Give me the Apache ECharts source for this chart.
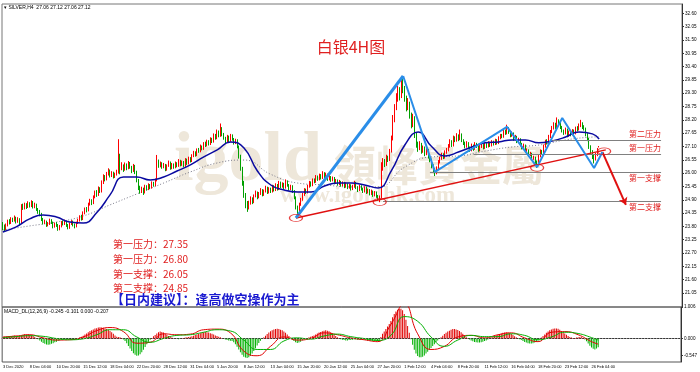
<!DOCTYPE html>
<html><head><meta charset="utf-8">
<script src="https://cdn.jsdelivr.net/npm/echarts@6/dist/echarts.min.js"></script>
<style>html,body{margin:0;padding:0;background:#fff}#c{width:700px;height:372px}</style>
</head><body><div id="c"></div>
<script>
// ---- data ----
const xLabels = ["3 Dec 2020","8 Dec 04:00","10 Dec 20:00","15 Dec 12:00","18 Dec 04:00","22 Dec 20:00","28 Dec 12:00","31 Dec 04:00","5 Jan 20:00","8 Jan 12:00","13 Jan 04:00","15 Jan 20:00","20 Jan 12:00","25 Jan 04:00","27 Jan 20:00","1 Feb 12:00","4 Feb 04:00","8 Feb 20:00","11 Feb 12:00","16 Feb 04:00","18 Feb 20:00","23 Feb 12:00","26 Feb 04:00"];
const barsPerLabel = 16;
const totalSlots = 406;

const opens = [
23.90,23.80,23.70,23.85,24.00,23.95,24.10,24.05,24.15,24.00,
24.10,23.95,24.65,24.55,24.70,24.60,24.75,24.65,24.80,24.60,
24.70,24.50,24.40,24.30,24.10,23.95,24.00,23.85,23.90,24.05,
23.95,23.80,23.90,23.85,23.70,23.80,23.95,23.90,24.00,23.85,
23.75,23.90,24.00,23.85,23.80,23.95,24.05,24.20,24.10,24.35,
24.50,24.45,24.70,24.85,24.75,25.00,25.20,25.10,25.35,25.25,
25.60,25.85,25.75,25.95,26.10,25.90,26.00,25.85,25.95,26.05,
26.65,26.20,26.30,26.15,26.35,26.20,26.40,26.25,26.10,26.30,
26.05,25.70,25.40,25.25,25.35,25.20,25.45,25.35,25.50,25.40,
25.60,25.50,25.70,26.50,26.30,26.40,26.25,26.35,26.15,26.30,
26.45,26.20,26.35,26.25,26.40,26.30,26.50,26.35,26.45,26.30,
26.55,26.40,26.60,26.50,26.70,26.85,26.75,26.95,26.90,27.10,
27.00,27.20,27.15,27.30,27.20,27.40,27.30,27.55,27.45,27.70,
27.55,27.85,27.60,27.45,27.30,27.50,27.35,27.55,27.40,27.25,
27.35,27.10,26.70,26.20,25.60,25.10,24.70,24.60,24.75,24.95,
24.80,25.05,25.20,25.00,25.15,25.30,25.10,25.25,25.40,25.20,
25.35,25.25,25.45,25.30,25.50,25.35,25.60,25.45,25.55,25.40,
25.65,25.50,25.35,25.45,25.25,25.00,24.60,24.45,24.70,24.90,
25.10,25.30,25.20,25.45,25.60,25.50,25.70,25.65,25.85,25.75,
25.90,25.80,26.00,25.85,25.95,25.75,25.85,25.70,25.80,25.60,
25.70,25.55,25.65,25.50,25.60,25.45,25.55,25.40,25.50,25.35,
25.45,25.60,25.40,25.30,25.45,25.35,25.25,25.40,25.20,25.30,
25.15,25.25,25.10,25.20,25.05,24.95,25.00,26.20,26.50,26.35,
26.65,26.55,26.90,27.40,28.20,28.70,29.10,29.40,29.20,29.70,
29.50,29.10,28.70,28.90,28.40,28.00,28.30,27.60,27.20,27.00,
27.20,26.90,27.05,26.80,26.95,26.70,26.55,26.30,26.10,26.00,
26.20,26.45,26.60,26.75,26.65,26.85,26.95,27.10,27.30,27.15,
27.45,27.35,27.55,27.40,27.60,27.35,27.25,27.10,27.25,27.05,
26.95,27.15,27.00,27.20,27.10,26.95,27.10,27.15,27.05,27.20,
27.10,27.25,27.15,27.30,27.20,27.35,27.25,27.45,27.55,27.50,
27.70,27.65,27.85,27.70,27.55,27.65,27.40,27.50,27.30,27.40,
27.20,27.05,27.15,26.90,26.95,26.75,26.80,26.60,26.65,26.45,
26.40,26.70,26.90,26.85,27.10,27.30,27.25,27.50,27.70,27.85,
28.00,27.90,28.15,28.05,27.90,27.75,27.65,27.80,27.55,27.70,
27.60,27.75,27.65,27.85,27.80,27.95,28.05,27.90,27.85,27.60,
27.40,27.10,26.90,26.70,26.60,26.75,27.06];

const closes = [
23.80,23.70,23.85,24.00,23.95,24.10,24.05,24.15,24.00,24.10,
23.95,24.65,24.55,24.70,24.60,24.75,24.65,24.80,24.60,24.70,
24.50,24.40,24.30,24.10,23.95,24.00,23.85,23.90,24.05,23.95,
23.80,23.90,23.85,23.70,23.80,23.95,23.90,24.00,23.85,23.75,
23.90,24.00,23.85,23.80,23.95,24.05,24.20,24.10,24.35,24.50,
24.45,24.70,24.85,24.75,25.00,25.20,25.10,25.35,25.25,25.60,
25.85,25.75,25.95,26.10,25.90,26.00,25.85,25.95,26.05,26.65,
26.20,26.30,26.15,26.35,26.20,26.40,26.25,26.10,26.30,26.05,
25.70,25.40,25.25,25.35,25.20,25.45,25.35,25.50,25.40,25.60,
25.50,25.70,26.50,26.30,26.40,26.25,26.35,26.15,26.30,26.45,
26.20,26.35,26.25,26.40,26.30,26.50,26.35,26.45,26.30,26.55,
26.40,26.60,26.50,26.70,26.85,26.75,26.95,26.90,27.10,27.00,
27.20,27.15,27.30,27.20,27.40,27.30,27.55,27.45,27.70,27.55,
27.85,27.60,27.45,27.30,27.50,27.35,27.55,27.40,27.25,27.35,
27.10,26.70,26.20,25.60,25.10,24.70,24.60,24.75,24.95,24.80,
25.05,25.20,25.00,25.15,25.30,25.10,25.25,25.40,25.20,25.35,
25.25,25.45,25.30,25.50,25.35,25.60,25.45,25.55,25.40,25.65,
25.50,25.35,25.45,25.25,25.00,24.60,24.45,24.70,24.90,25.10,
25.30,25.20,25.45,25.60,25.50,25.70,25.65,25.85,25.75,25.90,
25.80,26.00,25.85,25.95,25.75,25.85,25.70,25.80,25.60,25.70,
25.55,25.65,25.50,25.60,25.45,25.55,25.40,25.50,25.35,25.45,
25.60,25.40,25.30,25.45,25.35,25.25,25.40,25.20,25.30,25.15,
25.25,25.10,25.20,25.05,24.95,25.00,26.20,26.50,26.35,26.65,
26.55,26.90,27.40,28.20,28.70,29.10,29.40,29.20,29.70,29.50,
29.10,28.70,28.90,28.40,28.00,28.30,27.60,27.20,27.00,27.20,
26.90,27.05,26.80,26.95,26.70,26.55,26.30,26.10,26.00,26.20,
26.45,26.60,26.75,26.65,26.85,26.95,27.10,27.30,27.15,27.45,
27.35,27.55,27.40,27.60,27.35,27.25,27.10,27.25,27.05,26.95,
27.15,27.00,27.20,27.10,26.95,27.10,27.15,27.05,27.20,27.10,
27.25,27.15,27.30,27.20,27.35,27.25,27.45,27.55,27.50,27.70,
27.65,27.85,27.70,27.55,27.65,27.40,27.50,27.30,27.40,27.20,
27.05,27.15,26.90,26.95,26.75,26.80,26.60,26.65,26.45,26.40,
26.70,26.90,26.85,27.10,27.30,27.25,27.50,27.70,27.85,28.00,
27.90,28.15,28.05,27.90,27.75,27.65,27.80,27.55,27.70,27.60,
27.75,27.65,27.85,27.80,27.95,28.05,27.90,27.85,27.60,27.40,
27.10,26.90,26.70,26.60,26.75,26.95,27.12];

const highs = [
23.98,23.88,23.92,24.08,24.10,24.18,24.16,24.25,24.20,24.18,
24.14,24.72,24.74,24.78,24.76,24.84,24.80,24.88,24.85,24.78,
24.74,24.56,24.48,24.36,24.15,24.08,24.04,23.98,24.12,24.10,
24.00,23.96,23.98,23.90,23.86,24.02,24.04,24.08,24.05,23.90,
23.96,24.06,24.04,23.92,24.00,24.12,24.26,24.28,24.42,24.58,
24.60,24.78,24.94,24.92,25.08,25.28,25.30,25.45,25.42,25.70,
25.95,25.92,26.05,26.20,26.15,26.08,26.06,26.02,26.14,27.40,
26.80,26.45,26.36,26.44,26.40,26.50,26.46,26.30,26.38,26.34,
26.10,25.76,25.48,25.44,25.40,25.52,25.50,25.58,25.55,25.66,
25.64,25.78,26.75,26.56,26.48,26.45,26.42,26.38,26.36,26.52,
26.48,26.42,26.40,26.48,26.45,26.58,26.55,26.52,26.50,26.62,
26.60,26.68,26.66,26.78,26.92,26.90,27.02,27.04,27.18,27.14,
27.28,27.30,27.38,27.36,27.48,27.46,27.64,27.62,27.80,27.76,
28.05,27.90,27.66,27.50,27.58,27.55,27.62,27.60,27.45,27.42,
27.40,27.14,26.76,26.26,25.68,25.18,24.85,24.86,25.04,25.00,
25.12,25.28,25.24,25.22,25.38,25.34,25.32,25.48,25.44,25.42,
25.40,25.52,25.50,25.58,25.55,25.68,25.65,25.62,25.60,25.74,
25.70,25.55,25.52,25.50,25.30,25.04,24.66,24.78,24.98,25.18,
25.38,25.36,25.52,25.68,25.66,25.78,25.78,25.92,25.90,25.98,
25.96,26.08,26.04,26.02,25.98,25.92,25.88,25.86,25.84,25.76,
25.74,25.72,25.68,25.66,25.64,25.62,25.58,25.56,25.54,25.52,
25.68,25.64,25.46,25.52,25.50,25.40,25.46,25.44,25.36,25.34,
25.32,25.28,25.26,25.24,25.10,25.08,26.45,26.62,26.58,26.76,
26.72,27.00,27.55,28.40,28.85,29.30,29.60,29.55,30.00,29.90,
29.60,29.20,29.10,28.95,28.50,28.45,28.35,27.70,27.30,27.32,
27.25,27.14,27.10,27.04,27.00,26.76,26.60,26.36,26.20,26.28,
26.54,26.68,26.84,26.82,26.94,27.04,27.20,27.40,27.36,27.55,
27.52,27.65,27.60,27.80,27.64,27.40,27.30,27.32,27.28,27.10,
27.22,27.18,27.28,27.25,27.14,27.16,27.22,27.20,27.26,27.24,
27.32,27.30,27.36,27.34,27.42,27.40,27.52,27.62,27.62,27.78,
27.80,28.00,27.90,27.75,27.72,27.68,27.58,27.54,27.46,27.44,
27.25,27.22,27.18,27.02,26.98,26.88,26.84,26.72,26.68,26.52,
26.78,26.98,26.96,27.18,27.38,27.40,27.58,27.78,27.95,28.10,
28.08,28.30,28.22,28.10,27.95,27.80,27.88,27.84,27.76,27.75,
27.82,27.80,27.92,27.94,28.05,28.20,28.10,27.98,27.88,27.65,
27.45,27.15,26.95,26.76,26.84,27.04,27.12];

const lows = [
23.65,23.58,23.64,23.80,23.88,23.90,23.98,24.00,23.92,23.95,
23.86,23.90,24.48,24.50,24.52,24.56,24.58,24.60,24.54,24.55,
24.44,24.32,24.22,24.02,23.88,23.90,23.78,23.80,23.86,23.90,
23.72,23.75,23.78,23.62,23.64,23.76,23.84,23.86,23.78,23.68,
23.70,23.86,23.80,23.72,23.76,23.90,24.00,24.04,24.06,24.30,
24.38,24.42,24.66,24.68,24.72,24.96,25.02,25.06,25.18,25.20,
25.55,25.66,25.70,25.90,25.82,25.84,25.78,25.80,25.90,25.98,
25.95,26.12,26.05,26.10,26.12,26.16,26.18,26.00,26.05,25.96,
25.62,25.30,25.15,25.18,25.10,25.16,25.28,25.30,25.34,25.36,
25.44,25.46,25.66,26.22,26.24,26.18,26.20,26.08,26.10,26.26,
26.14,26.16,26.18,26.20,26.24,26.26,26.28,26.30,26.24,26.26,
26.34,26.36,26.44,26.46,26.66,26.68,26.70,26.84,26.86,26.94,
26.96,27.08,27.10,27.14,27.16,27.24,27.26,27.38,27.40,27.48,
27.50,27.52,27.38,27.22,27.26,27.28,27.30,27.34,27.18,27.20,
27.02,26.60,26.10,25.48,24.98,24.55,24.40,24.50,24.70,24.72,
24.76,25.00,24.92,24.96,25.10,25.04,25.06,25.20,25.14,25.16,
25.18,25.20,25.24,25.26,25.28,25.30,25.38,25.40,25.34,25.36,
25.44,25.28,25.30,25.18,24.92,24.50,24.20,24.40,24.65,24.86,
25.06,25.14,25.16,25.40,25.44,25.46,25.58,25.60,25.68,25.70,
25.74,25.76,25.78,25.80,25.68,25.70,25.64,25.66,25.54,25.56,
25.48,25.50,25.44,25.46,25.38,25.40,25.34,25.36,25.28,25.30,
25.40,25.34,25.22,25.26,25.28,25.18,25.20,25.14,25.16,25.08,
25.10,25.02,25.04,24.98,24.86,24.80,24.96,26.10,26.25,26.30,
26.46,26.50,26.85,27.35,28.10,28.60,28.95,29.00,29.10,29.30,
28.95,28.55,28.60,28.25,27.85,27.90,27.45,27.05,26.88,26.95,
26.80,26.84,26.70,26.74,26.60,26.45,26.20,26.00,25.88,25.95,
26.15,26.40,26.55,26.58,26.60,26.80,26.90,27.05,27.08,27.10,
27.28,27.30,27.32,27.36,27.28,27.16,27.02,27.05,26.98,26.88,
26.90,26.92,26.96,27.04,26.88,26.90,27.04,26.98,27.00,27.04,
27.06,27.08,27.10,27.14,27.16,27.18,27.20,27.40,27.44,27.46,
27.58,27.60,27.62,27.48,27.50,27.34,27.36,27.24,27.26,27.12,
26.98,27.00,26.84,26.84,26.68,26.70,26.52,26.55,26.36,26.22,
26.36,26.65,26.78,26.80,27.05,27.18,27.20,27.45,27.65,27.80,
27.82,27.86,27.98,27.82,27.68,27.58,27.60,27.48,27.50,27.52,
27.56,27.58,27.60,27.72,27.76,27.90,27.82,27.76,27.52,27.32,
27.00,26.80,26.58,26.40,26.52,26.70,27.06];

// moving averages: [bar index, price]
const maFast = [[0,23.57],[8,23.78],[16,24.11],[24,24.27],[32,24.19],[40,23.98],[48,23.94],[56,24.36],[64,25.10],[72,25.84],[80,25.84],[88,25.72],[96,25.84],[104,26.09],[112,26.34],[120,26.67],[128,26.96],[136,27.29],[144,27.04],[152,26.09],[160,25.51],[168,25.30],[176,25.22],[184,25.22],[192,25.47],[200,25.59],[208,25.59],[216,25.51],[224,25.39],[232,26.10],[240,27.16],[248,27.70],[256,27.10],[264,26.71],[272,26.87],[280,27.08],[288,27.25],[296,27.29],[304,27.37],[312,27.37],[320,27.25],[328,27.33],[336,27.49],[344,27.70],[352,27.62],[356,27.41]];
const maSlow = [[0,23.65],[16,23.82],[32,23.98],[48,24.23],[64,24.69],[80,25.14],[96,25.59],[112,26.05],[128,26.42],[144,26.54],[160,25.95],[176,25.59],[192,25.51],[208,25.43],[224,25.43],[240,26.25],[256,26.67],[272,26.71],[288,26.91],[304,27.08],[320,27.16],[336,27.37],[352,27.49],[356,27.50]];

// MACD
const macdHist = [
0.05,0.06,0.06,0.07,0.08,0.08,0.09,0.10,0.09,0.08,
0.07,0.10,0.12,0.14,0.13,0.14,0.12,0.10,0.08,0.05,
0.02,-0.02,-0.06,-0.10,-0.14,-0.17,-0.19,-0.20,-0.19,-0.17,
-0.15,-0.12,-0.10,-0.08,-0.06,-0.04,-0.03,-0.02,-0.02,-0.03,
-0.02,-0.01,-0.02,-0.03,-0.02,0.01,0.04,0.06,0.09,0.13,
0.16,0.20,0.24,0.26,0.29,0.32,0.33,0.35,0.36,0.35,
0.34,0.32,0.30,0.28,0.24,0.20,0.15,0.10,0.06,0.05,
0.04,0.02,-0.03,-0.08,-0.15,-0.24,-0.32,-0.40,-0.47,-0.52,
-0.55,-0.54,-0.50,-0.44,-0.36,-0.27,-0.18,-0.10,-0.04,0.02,
0.07,0.11,0.16,0.20,0.22,0.21,0.19,0.16,0.12,0.08,
0.05,0.03,0.02,0.01,-0.01,-0.02,-0.01,0.01,0.02,0.03,
0.04,0.05,0.06,0.07,0.09,0.11,0.13,0.15,0.17,0.19,
0.20,0.21,0.20,0.19,0.17,0.15,0.13,0.10,0.08,0.06,
0.04,0.02,-0.01,-0.03,-0.05,-0.06,-0.07,-0.08,-0.12,-0.18,
-0.26,-0.35,-0.44,-0.52,-0.58,-0.61,-0.62,-0.60,-0.55,-0.48,
-0.40,-0.31,-0.22,-0.14,-0.07,-0.01,0.04,0.09,0.14,0.19,
0.23,0.26,0.29,0.30,0.31,0.30,0.28,0.26,0.22,0.18,
0.13,0.08,0.03,-0.03,-0.08,-0.12,-0.14,-0.13,-0.10,-0.06,
-0.03,0.00,0.02,0.04,0.06,0.08,0.10,0.13,0.16,0.19,
0.21,0.23,0.25,0.26,0.25,0.23,0.20,0.16,0.12,0.08,
0.04,0.01,-0.02,-0.04,-0.05,-0.06,-0.06,-0.05,-0.05,-0.04,
-0.03,-0.03,-0.04,-0.05,-0.05,-0.04,-0.04,-0.05,-0.06,-0.06,
-0.07,-0.07,-0.08,-0.08,-0.09,-0.09,0.05,0.15,0.22,0.30,
0.38,0.46,0.56,0.68,0.78,0.86,0.92,0.94,0.95,0.90,
0.78,0.60,0.40,0.18,-0.02,-0.20,-0.36,-0.48,-0.56,-0.60,
-0.60,-0.58,-0.54,-0.48,-0.42,-0.36,-0.30,-0.24,-0.18,-0.12,
-0.06,-0.01,0.04,0.09,0.14,0.18,0.22,0.25,0.28,0.30,
0.30,0.29,0.27,0.24,0.20,0.15,0.10,0.05,0.01,-0.03,
-0.06,-0.09,-0.11,-0.12,-0.13,-0.13,-0.12,-0.10,-0.08,-0.06,
-0.03,0.00,0.03,0.06,0.08,0.10,0.12,0.14,0.16,0.18,
0.19,0.20,0.19,0.17,0.14,0.11,0.07,0.04,0.01,-0.02,
-0.05,-0.08,-0.11,-0.13,-0.15,-0.16,-0.16,-0.15,-0.13,-0.10,
-0.06,-0.02,0.03,0.08,0.13,0.18,0.22,0.26,0.29,0.31,
0.32,0.32,0.31,0.28,0.24,0.20,0.16,0.12,0.08,0.05,
0.03,0.02,0.02,0.03,0.04,0.05,0.04,0.02,-0.03,-0.09,
-0.16,-0.23,-0.29,-0.33,-0.35,-0.32,-0.28];
const macdMain = [[0,0.05],[8,0.08],[16,0.12],[24,0.02],[32,-0.05],[40,-0.04],[48,0.05],[56,0.25],[64,0.35],[72,0.22],[80,-0.15],[88,-0.12],[96,0.15],[104,0.12],[112,0.14],[120,0.28],[128,0.30],[136,0.18],[144,-0.40],[152,-0.55],[160,-0.25],[168,0.05],[176,-0.05],[184,0.00],[192,0.18],[200,0.12],[208,0.02],[216,-0.04],[224,-0.10],[232,0.45],[240,1.10],[248,0.15],[256,-0.35],[264,-0.25],[272,0.05],[280,0.10],[288,0.02],[296,0.12],[304,0.18],[312,0.02],[320,-0.10],[328,0.20],[336,0.22],[344,0.12],[352,-0.10],[356,-0.18]];
const macdSignal = [[0,0.03],[8,0.06],[16,0.09],[24,0.07],[32,0.00],[40,-0.04],[48,-0.01],[56,0.12],[64,0.28],[72,0.28],[80,0.05],[88,-0.12],[96,0.00],[104,0.10],[112,0.12],[120,0.20],[128,0.28],[136,0.24],[144,-0.05],[152,-0.35],[160,-0.35],[168,-0.08],[176,0.02],[184,-0.02],[192,0.08],[200,0.14],[208,0.06],[216,0.00],[224,-0.06],[232,0.10],[240,0.70],[248,0.55],[256,0.05],[264,-0.25],[272,-0.05],[280,0.10],[288,0.06],[296,0.06],[304,0.15],[312,0.10],[320,-0.04],[328,0.05],[336,0.20],[344,0.16],[352,0.03],[356,-0.05]];

// axis ticks
const yTicks = [21.05,21.60,22.15,22.70,23.25,23.80,24.35,24.90,25.45,26.00,26.55,27.10,27.65,28.20,28.75,29.30,29.85,30.40,30.95,31.50,32.05,32.60];
const macdTicks = [1.006, 0, -0.547];

// annotations (bar index, price)
const zigzag = [[175,24.15],[239,30.01],[258,26.05],[301,27.91],[319,26.25],[334,28.28],[353,26.21],[358,26.87]];
const trendLine = [[175,24.15],[360,26.96]];
const arrowPath = [[358,26.87],[372,24.69]];
const circles = [[175,24.15],[225,24.81],[319,26.22],[359,26.90]];
const levelNames = ["第二压力","第一压力","第一支撑","第二支撑"];
const levelValues = [27.35, 26.80, 26.05, 24.85];
const levelStart = [328, 281, 255, 227];
const levelEnd = 393;
const noteLines = ["第一压力：27.35","第一压力：26.80","第一支撑：26.05","第二支撑：24.85"];
const adviceText = "【日内建议】：逢高做空操作为主";

// ---- build ----
const cats = [];
for (let i = 0; i < totalSlots; i++) {
  cats.push(i % barsPerLabel === 0 && xLabels[i / barsPerLabel] ? xLabels[i / barsPerLabel] : '');
}
const candleData = opens.map((o, i) => [o, closes[i], lows[i], highs[i]]);
const RED = '#ff0000', GREEN = '#00a000';
const histData = macdHist.map(v => ({value: v, itemStyle: {color: v >= 0 ? '#e00000' : '#00b000'}}));

const levelLines = levelNames.map((n, k) => [
  {coord: [levelStart[k], levelValues[k]], name: n,
   label: {show: true, formatter: n, position: k < 2 ? 'insideEndTop' : 'insideEndBottom',
     color: '#e02020', fontSize: 8, distance: [0, 2], fontFamily: 'Noto Sans CJK SC'}},
  {coord: [levelEnd, levelValues[k]]}
]);

const CJK = 'Noto Sans CJK SC';
const WM = '#eee7da';
const AX = 'Liberation Sans';
const chart = echarts.init(document.getElementById('c'), null, {renderer: 'canvas'});
chart.setOption({
  animation: false,
  backgroundColor: '#ffffff',
  grid: [
    {left: 2, right: 18, top: 4, height: 303, show: true, borderColor: '#777', borderWidth: 1},
    {left: 2, right: 18, top: 307, height: 55, show: true, borderColor: '#555', borderWidth: 1}
  ],
  xAxis: [
    {type: 'category', gridIndex: 0, data: cats, boundaryGap: true, show: false},
    {type: 'category', gridIndex: 1, data: cats, boundaryGap: true,
     axisLine: {lineStyle: {color: '#333'}},
     axisTick: {alignWithLabel: true, length: 2, lineStyle: {color: '#333'}, interval: (i, v) => v !== ''},
     axisLabel: {interval: (i, v) => v !== '', showMinLabel: true, showMaxLabel: true, hideOverlap: false,
       fontSize: 4, color: '#000', align: 'left', margin: 3, fontFamily: AX}}
  ],
  yAxis: [
    {type: 'value', gridIndex: 0, position: 'right', min: 20.472, max: 32.984, scale: true,
     splitLine: {show: false},
     axisLine: {show: true, lineStyle: {color: '#333'}},
     axisTick: {show: true, length: 2, customValues: yTicks, lineStyle: {color: '#333'}},
     axisLabel: {customValues: yTicks, formatter: v => v.toFixed(2), fontSize: 4.6, color: '#000', margin: 3, fontFamily: AX}},
    {type: 'value', gridIndex: 1, position: 'right', min: -0.75, max: 1.006,
     splitLine: {show: false},
     axisLine: {show: true, lineStyle: {color: '#333'}},
     axisTick: {show: true, length: 2, customValues: macdTicks, lineStyle: {color: '#333'}},
     axisLabel: {customValues: macdTicks, formatter: v => v.toFixed(3), fontSize: 4.6, color: '#000', margin: 3, fontFamily: AX}}
  ],
  graphic: [
    {type: 'text', z: -10, silent: true, style: {text: 'igold', x: 174, y: 162, font: 'bold 70px "Liberation Serif"', fill: WM, textVerticalAlign: 'middle', verticalAlign: 'middle'}},
    {type: 'text', z: -10, silent: true, style: {text: '領峰貴金屬', x: 334, y: 165, font: 'bold 42px "Noto Sans CJK TC"', fill: WM, textVerticalAlign: 'middle', verticalAlign: 'middle'}},
    {type: 'text', z: -10, silent: true, style: {text: 'www.igoldhk.com', x: 280, y: 196, font: 'bold 23px "Liberation Serif"', fill: WM, textVerticalAlign: 'middle', verticalAlign: 'middle'}},
    {type: 'text', z: 100, style: {text: '▾ SILVER,H4  27.06 27.12 27.06 27.12', x: 4, y: 8, font: '5px "' + AX + '"', fill: '#000', textVerticalAlign: 'middle', verticalAlign: 'middle'}},
    {type: 'text', z: 100, style: {text: 'MACD_DL(12,26,9) -0.245 -0.101 0.000 -0.207', x: 4, y: 312, font: '5px "' + AX + '"', fill: '#000', textVerticalAlign: 'middle', verticalAlign: 'middle'}},
    {type: 'text', z: 100, style: {text: '白银4H图', x: 351, y: 47, font: '16px "' + CJK + '"', fill: '#e02020', textAlign: 'center', align: 'center', textVerticalAlign: 'middle', verticalAlign: 'middle'}},
    ...noteLines.map((t, k) => ({type: 'text', z: 100, style: {text: t, x: 113, y: [244, 259, 274, 288][k], font: '10px "' + CJK + '"', fill: '#e02020', textVerticalAlign: 'middle', verticalAlign: 'middle'}})),
    {type: 'text', z: 100, style: {text: adviceText, x: 111, y: 299, font: 'bold 13px "' + CJK + '"', fill: '#1a1ad0', textVerticalAlign: 'middle', verticalAlign: 'middle'}}
  ],
  series: [
    {type: 'line', xAxisIndex: 0, yAxisIndex: 0, data: maSlow, smooth: true, showSymbol: false, z: 2,
     lineStyle: {color: '#7a7a8a', width: 1, type: [1, 2]}},
    {type: 'candlestick', xAxisIndex: 0, yAxisIndex: 0, data: candleData, barWidth: 1, z: 3,
     itemStyle: {color: RED, color0: GREEN, borderColor: RED, borderColor0: GREEN, borderWidth: 1}},
    {type: 'line', xAxisIndex: 0, yAxisIndex: 0, data: maFast, smooth: true, showSymbol: false, z: 4,
     lineStyle: {color: '#0a0aa0', width: 1.5}},
    {type: 'line', xAxisIndex: 0, yAxisIndex: 0, data: [], z: 5, showSymbol: false,
     markLine: {silent: true, symbol: ['none', 'none'], lineStyle: {color: '#808080', width: 1, type: 'solid'}, data: levelLines}},
    {type: 'line', xAxisIndex: 0, yAxisIndex: 0, data: trendLine, showSymbol: false, z: 6,
     lineStyle: {color: '#e01010', width: 1.5}},
    {type: 'line', xAxisIndex: 0, yAxisIndex: 0, data: zigzag.slice(0, 2), showSymbol: false, z: 7,
     lineStyle: {color: '#2a8de8', width: 3}},
    {type: 'line', xAxisIndex: 0, yAxisIndex: 0, data: zigzag.slice(1), showSymbol: false, z: 7,
     lineStyle: {color: '#2a8de8', width: 2}},
    {type: 'line', xAxisIndex: 0, yAxisIndex: 0, data: [], z: 8, showSymbol: false,
     markLine: {silent: true, symbol: ['none', 'arrow'], symbolSize: 7, lineStyle: {color: '#e01010', width: 2, type: 'solid'}, label: {show: false},
       data: [[{coord: arrowPath[0]}, {coord: arrowPath[1]}]]}},
    {type: 'scatter', xAxisIndex: 0, yAxisIndex: 0, data: circles, symbol: 'circle', symbolSize: [13, 7], z: 9,
     itemStyle: {color: 'rgba(0,0,0,0)', borderColor: '#e01010', borderWidth: 1}},
    {type: 'bar', xAxisIndex: 1, yAxisIndex: 1, data: histData, barWidth: 1, z: 2,
     markLine: {silent: true, symbol: ['none', 'none'], label: {show: false}, lineStyle: {color: '#aaa', type: [1, 2], width: 1}, data: [{yAxis: 0}]}},
    {type: 'line', xAxisIndex: 1, yAxisIndex: 1, data: macdMain, smooth: true, showSymbol: false, z: 3,
     lineStyle: {color: '#e00000', width: 1}},
    {type: 'line', xAxisIndex: 1, yAxisIndex: 1, data: macdSignal, smooth: true, showSymbol: false, z: 3,
     lineStyle: {color: '#00b000', width: 1}}
  ]
});
</script>
</body></html>
